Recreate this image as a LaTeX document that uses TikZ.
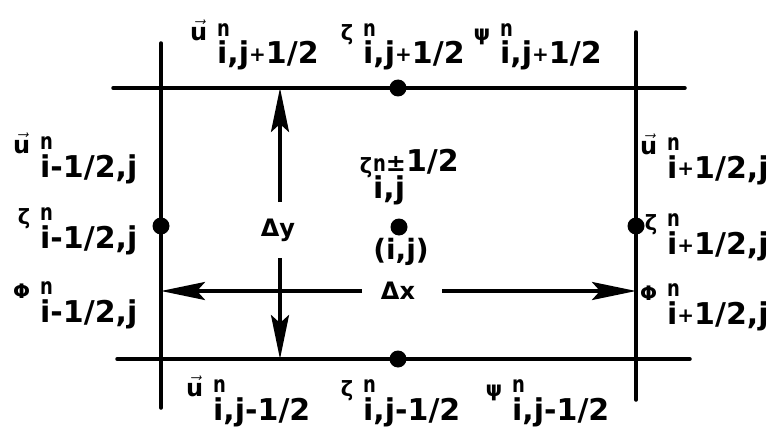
\documentclass[tikz,border=0pt]{standalone}
\usepackage{fontspec}
\setmainfont{DejaVu Sans}
\usetikzlibrary{arrows.meta}
\newcommand{\fs}[1]{\fontsize{#1}{#1}\selectfont}
\newcommand{\nsup}{\scalebox{0.78}[1]{\fs{23}n}}
\newcommand{\pl}{\raisebox{2pt}{\fs{20}+}}
\newcommand{\uvec}{{\fs{24}$\vec{\mbox{u}}$}}
\newcommand{\zet}{{\fs{21}ζ}}
\newcommand{\psis}{{\fs{21}ψ}}
\newcommand{\phis}{{\fs{20}Φ}}
\newcommand{\gl}[2]{\llap{\raisebox{24pt}{#1}\kern10pt}\rlap{\raisebox{28pt}{\nsup}}#2}
\tikzset{
  lab/.style={font=\fs{30}\bfseries, inner sep=0pt, anchor=base west},
  dot/.style={circle, fill=black, inner sep=0pt, minimum size=17pt},
  gridline/.style={line width=3.5pt, line cap=round},
  dim/.style={line width=3.5pt, -{Stealth[length=44pt,width=18pt,inset=8pt]}}
}
\begin{document}
\begin{tikzpicture}[x=1pt,y=-1pt]
\useasboundingbox[fill=white] (0,0) rectangle (777,436);
% grid lines
\coordinate (lvT) at (161,43);  \coordinate (lvB) at (161,408);
\coordinate (rvT) at (636,32);  \coordinate (rvB) at (636,400);
\coordinate (thL) at (113,88);  \coordinate (thR) at (685,88);
\coordinate (bhL) at (117,359); \coordinate (bhR) at (690,359);
\draw[gridline] (lvT) -- (lvB);
\draw[gridline] (rvT) -- (rvB);
\draw[gridline] (thL) -- (thR);
\draw[gridline] (bhL) -- (bhR);
% dots
\node[dot] (dT) at (398,88) {};
\node[dot] (dB) at (398,359) {};
\node[dot] (dC) at (399,227) {};
\node[dot] (dL) at (161,226) {};
\node[dot] (dR) at (636,226) {};
% dimension labels and arrows
\node[font=\fs{24}\bfseries, inner sep=0pt] (dy) at (278,230) {Δy};
\node[font=\fs{24}\bfseries, inner sep=0pt] (dx) at (398,291) {Δx};
\coordinate (dyA) at (280,202); \coordinate (dyTip) at (280,88);
\coordinate (dyB) at (280,258); \coordinate (dyTip2) at (280,359);
\coordinate (dxA) at (362,291); \coordinate (dxTip) at (161,291);
\coordinate (dxB) at (442,291); \coordinate (dxTip2) at (636,291);
\draw[dim] (dyA) -- (dyTip);
\draw[dim] (dyB) -- (dyTip2);
\draw[dim] (dxA) -- (dxTip);
\draw[dim] (dxB) -- (dxTip2);
% centre labels
\node[lab] (zC) at (373,198) {\llap{\raisebox{25pt}{\zet}\kern1pt}\rlap{\raisebox{27pt}{\nsup{\fs{24}±}1/2}}i,j};
\node[font=\fs{28}\bfseries, inner sep=0pt] (ij) at (401,252) {(i,j)};
% top labels
\node[lab] (uT) at (217,64) {\gl{\uvec}{i,j\pl1/2}};
\node[lab] (zT) at (363,64) {\gl{\zet}{i,j\pl1/2}};
\node[lab] (pT) at (500,64) {\gl{\psis}{i,j\pl1/2}};
% bottom labels
\node[lab] (uB) at (213,420) {\gl{\uvec}{i,j-1/2}};
\node[lab] (zB) at (363,420) {\gl{\zet}{i,j-1/2}};
\node[lab] (pB) at (512,420) {\gl{\psis}{i,j-1/2}};
% left labels
\node[lab] (uL) at (40,177) {\gl{\uvec}{i-1/2,j}};
\node[lab] (zL) at (40,248) {\gl{\zet}{i-1/2,j}};
\node[lab] (fL) at (40,322) {\gl{\phis}{i-1/2,j}};
% right labels
\node[lab] (uR) at (667,178) {\gl{\uvec}{i\pl1/2,j}};
\node[lab] (zR) at (667,254) {\gl{\zet}{i\pl1/2,j}};
\node[lab] (fR) at (667,324) {\gl{\phis}{i\pl1/2,j}};
\end{tikzpicture}
\end{document}
